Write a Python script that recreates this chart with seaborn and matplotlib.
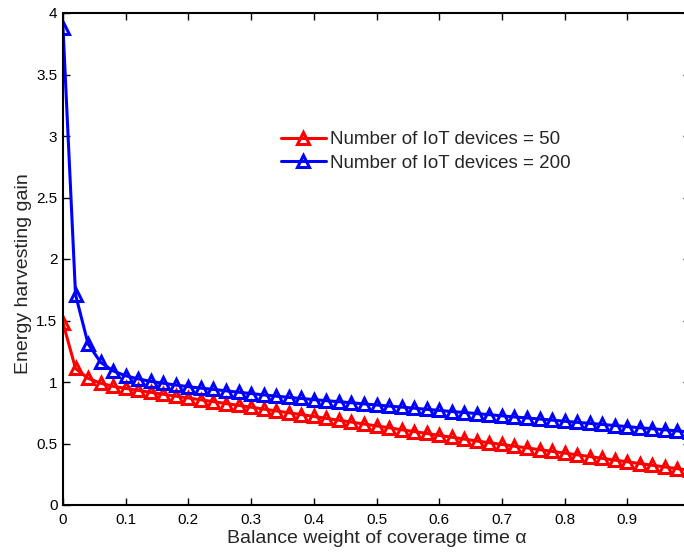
import numpy as np
import pandas as pd
import matplotlib
matplotlib.use("Agg")
import matplotlib.pyplot as plt
import seaborn as sns

alpha = [round(0.02 * i, 2) for i in range(51)]
gain_50 = [1.48, 1.11, 1.03, 0.99, 0.965, 0.948, 0.932, 0.916, 0.90, 0.885,
           0.87, 0.855, 0.84, 0.825, 0.81, 0.795, 0.78, 0.765, 0.75, 0.735,
           0.72, 0.704, 0.689, 0.674, 0.658, 0.643, 0.628, 0.612, 0.597, 0.582,
           0.566, 0.551, 0.536, 0.52, 0.506, 0.492, 0.478, 0.464, 0.450, 0.436,
           0.422, 0.408, 0.394, 0.379, 0.365, 0.351, 0.337, 0.323, 0.309, 0.295,
           0.281]
gain_200 = [3.88, 1.71, 1.31, 1.16, 1.09, 1.05, 1.025, 1.005, 0.99, 0.975,
            0.962, 0.95, 0.94, 0.928, 0.917, 0.906, 0.895, 0.885,
            0.875, 0.866, 0.857, 0.848, 0.840, 0.831, 0.822, 0.813, 0.804, 0.796,
            0.787, 0.778, 0.769, 0.760, 0.752, 0.743, 0.734, 0.725, 0.716, 0.708,
            0.699, 0.690, 0.681, 0.672, 0.664, 0.655, 0.646, 0.637, 0.628, 0.620,
            0.611, 0.602, 0.593]
labels = ["Number of IoT devices = 50", "Number of IoT devices = 200"]
colors = ["#ff0000", "#0000ff"]
xticks = [0, 0.1, 0.2, 0.3, 0.4, 0.5, 0.6, 0.7, 0.8, 0.9]
xticklabels = ["0", "0.1", "0.2", "0.3", "0.4", "0.5", "0.6", "0.7", "0.8", "0.9"]
yticks = [0, 0.5, 1, 1.5, 2, 2.5, 3, 3.5, 4]
yticklabels = ["0", "0.5", "1", "1.5", "2", "2.5", "3", "3.5", "4"]

sns.set_style("ticks")
plt.rcParams["font.family"] = ["Liberation Sans", "DejaVu Sans"]

fig = plt.figure(figsize=(6.84, 5.52), dpi=100)
ax = fig.add_axes([63 / 684, 47 / 552, 627 / 684, 492 / 552])

for ys, lab, c in zip([gain_50, gain_200], labels, colors):
    sns.lineplot(x=alpha, y=ys, ax=ax, color=c, label=lab, marker="^",
                 markersize=8, markerfacecolor="none", markeredgecolor=c,
                 markeredgewidth=2.2, linewidth=2.2, clip_on=True)

ax.set_xlim(0, 1)
ax.set_ylim(0, 4)
ax.set_xticks(xticks)
ax.set_xticklabels(xticklabels)
ax.set_yticks(yticks)
ax.set_yticklabels(yticklabels)
ax.tick_params(direction="in", top=True, right=True, length=5, width=1,
               labelsize=11, colors="black", pad=4)
ax.tick_params(axis="x", pad=6)
for s in ax.spines.values():
    s.set_linewidth(1.5)
    s.set_color("black")
ax.set_xlabel("Balance weight of coverage time \u03b1", fontsize=14, labelpad=2)
ax.set_ylabel("Energy harvesting gain", fontsize=14)
ax.yaxis.set_label_coords(-0.05, 0.47)

ax.legend(loc="center left", bbox_to_anchor=(273 / 684, 1 - 151.5 / 552),
          bbox_transform=fig.transFigure, frameon=False, fontsize=13.5,
          handlelength=2.4, handletextpad=0.25, labelspacing=0.35,
          borderaxespad=0)

fig.savefig("out.png", dpi=100)
